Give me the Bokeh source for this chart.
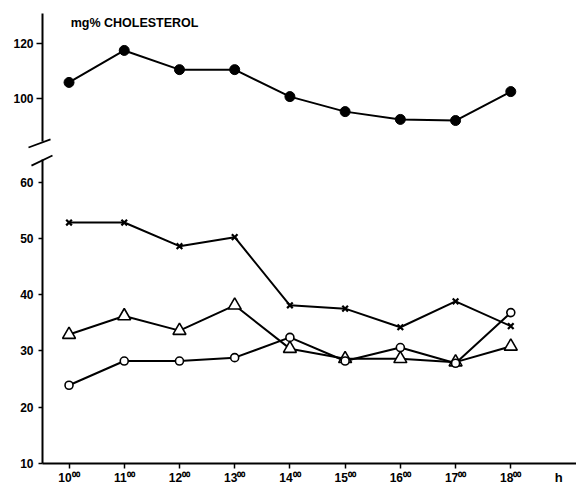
from bokeh.plotting import figure
from bokeh.layouts import column
from bokeh.models import Range1d, FixedTicker, Label, Arrow
from bokeh.embed import file_html
from bokeh.resources import INLINE

# ---- data ----
hours = [10, 11, 12, 13, 14, 15, 16, 17, 18]
hour_labels = ["10⁰⁰", "11⁰⁰", "12⁰⁰", "13⁰⁰", "14⁰⁰", "15⁰⁰", "16⁰⁰", "17⁰⁰", "18⁰⁰"]
total_chol = [105.9, 117.4, 110.5, 110.5, 100.8, 95.4, 92.6, 92.2, 102.6]      # filled circles
cross_series = [52.8, 52.8, 48.6, 50.2, 38.1, 37.5, 34.2, 38.8, 34.4]          # x markers
triangle_series = [32.9, 36.2, 33.6, 38.1, 30.4, 28.6, 28.6, 28.0, 30.8]       # open triangles
circle_series = [23.9, 28.2, 28.2, 28.8, 32.4, 28.2, 30.6, 27.8, 36.8]         # open circles
upper_ticks = [100, 120]
lower_ticks = [10, 20, 30, 40, 50, 60]

FONT = "Liberation Sans"
W = 576
X_AXIS_AT = 9.52
xr = Range1d(8.759, 19.19)


def style_axis(ax, tick_out, standoff):
    ax.axis_line_width = 2
    ax.major_tick_in = 0
    ax.major_tick_out = tick_out
    ax.major_tick_line_width = 1.5
    ax.minor_tick_line_color = None
    ax.major_label_standoff = standoff
    ax.major_label_text_font = FONT
    ax.major_label_text_font_style = "bold"
    ax.major_label_text_font_size = "12px"
    ax.major_label_text_color = "black"


# ---------- upper panel ----------
p1 = figure(width=W, height=152, x_range=xr, y_range=Range1d(80.7, 135.36),
            output_backend="svg", toolbar_location=None, x_axis_location=None,
            min_border=0)
p1.outline_line_color = None
p1.grid.visible = False
ya = p1.yaxis[0]
ya.fixed_location = X_AXIS_AT
ya.ticker = FixedTicker(ticks=upper_ticks)
ya.bounds = (84.6, 130.7)
style_axis(ya, 6, 3)

p1.line(hours, total_chol, line_color="black", line_width=2)
p1.scatter(hours, total_chol, marker="circle", size=10, fill_color="black", line_color="black")
p1.add_layout(Label(x=10.03, y=124.6, text="mg% CHOLESTEROL", text_font=FONT,
                    text_font_style="bold", text_font_size="12.5px", text_color="black"))
p1.add_layout(Arrow(x_start=9.266, y_start=82.5, x_end=9.665, y_end=85.4, end=None,
                    line_color="black", line_width=1.8))

# ---------- lower panel ----------
p2 = figure(width=W, height=338, x_range=xr, y_range=Range1d(5.204, 65.24),
            output_backend="svg", toolbar_location=None, min_border=0)
p2.outline_line_color = None
p2.grid.visible = False
ya2 = p2.yaxis[0]
ya2.fixed_location = X_AXIS_AT
ya2.ticker = FixedTicker(ticks=lower_ticks)
ya2.bounds = (10, 64.0)
style_axis(ya2, 4, 5)

xa = p2.xaxis[0]
xa.fixed_location = 10
xa.bounds = (X_AXIS_AT, 19.19)
xa.ticker = FixedTicker(ticks=hours)
xa.major_label_overrides = {h: lab for h, lab in zip(hours, hour_labels)}
style_axis(xa, 5, 3)

for ys in (cross_series, triangle_series, circle_series):
    p2.line(hours, ys, line_color="black", line_width=2)
p2.scatter(hours, triangle_series, marker="triangle", size=13, fill_color="white",
           line_color="black", line_width=1.6)
p2.scatter(hours, circle_series, marker="circle", size=8, fill_color="white",
           line_color="black", line_width=1.6)
p2.scatter(hours, cross_series, marker="x", size=8, line_color="black", line_width=2.2)

p2.add_layout(Arrow(x_start=9.32, y_start=62.9, x_end=9.70, y_end=64.7, end=None,
                    line_color="black", line_width=1.8))
p2.add_layout(Label(x=18.87, y=7.5, text="h", text_font=FONT, text_font_style="bold",
                    text_font_size="13px", text_color="black",
                    text_align="center", text_baseline="middle"))

layout = column(p1, p2, spacing=0)
open("out.html", "w").write(file_html(layout, INLINE))
